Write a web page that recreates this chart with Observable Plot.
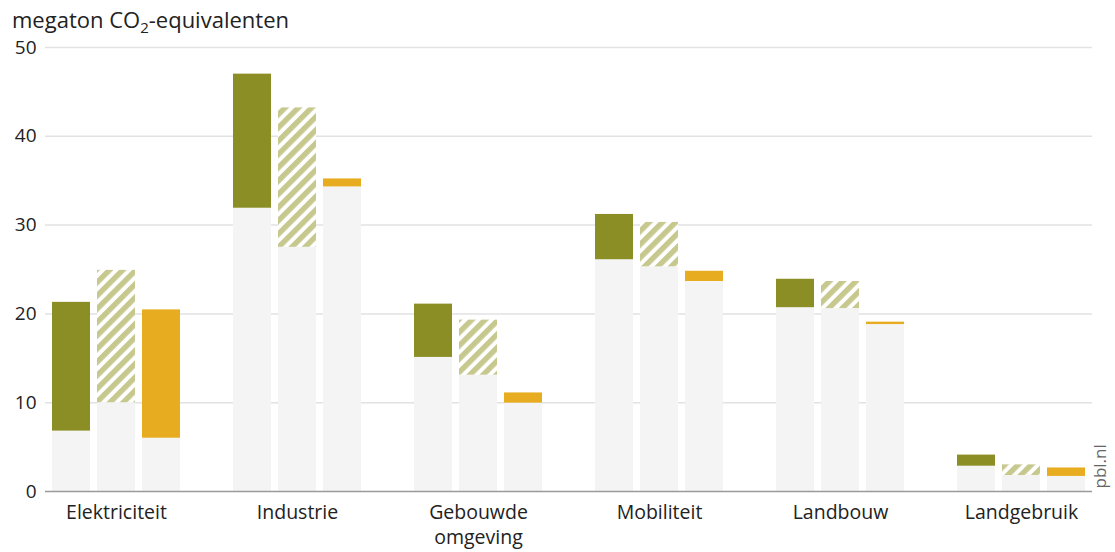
<!DOCTYPE html>
<html><head><meta charset="utf-8">
<script src="https://cdn.jsdelivr.net/npm/d3@7"></script>
<script src="https://cdn.jsdelivr.net/npm/@observablehq/plot@0.6"></script>
<style>
body{margin:0;background:#fff;font-family:"Open Sans",sans-serif;}
#title{height:30px;font-size:22px;color:#222;padding-left:12px;line-height:38px;white-space:nowrap;overflow:visible;position:relative;z-index:1;}
#title sub{font-size:15px;vertical-align:-5px;line-height:0;}
#chart svg{display:block;}
</style></head><body>
<div id="title">megaton CO<sub>2</sub>-equivalenten</div>
<div id="chart"></div>
<script>
const categories = ["Elektriciteit", "Industrie", "Gebouwde omgeving", "Mobiliteit", "Landbouw", "Landgebruik"];
const seriesNames = ["Raming 1", "Raming 2", "Raming 3"];
const low1  = [6.8, 31.9, 15.1, 26.1, 20.7, 2.85];
const high1 = [21.3, 47.0, 21.1, 31.2, 23.9, 4.1];
const low2  = [10.0, 27.5, 13.1, 25.3, 20.6, 1.8];
const high2 = [24.9, 43.2, 19.3, 30.3, 23.65, 3.0];
const low3  = [6.0, 34.3, 9.95, 23.65, 18.8, 1.7];
const high3 = [20.45, 35.2, 11.1, 24.8, 19.07, 2.65];
const yTicks = [0, 10, 20, 30, 40, 50];

const lows = [low1, low2, low3];
const highs = [high1, high2, high3];
const rows = [];
seriesNames.forEach((s, i) => categories.forEach((c, j) => rows.push({category: c, series: s, low: lows[i][j], high: highs[i][j]})));

const fills = ["#8b8e24", "url(#hatch)", "#e7ac1f"];
const insets = [[0, 90], [45, 45], [90, 0]];

const marks = [Plot.ruleY(yTicks.filter(d => d > 0), {stroke: "#e2e2e2", strokeWidth: 1.5})];
seriesNames.forEach((s, i) => {
  const data = rows.filter(d => d.series === s);
  marks.push(Plot.barY(data, {x: "category", y1: 0, y2: "low", fill: "#f4f4f4", insetLeft: insets[i][0], insetRight: insets[i][1]}));
  marks.push(Plot.barY(data, {x: "category", y1: "low", y2: "high", fill: fills[i], insetLeft: insets[i][0], insetRight: insets[i][1]}));
});
marks.push(Plot.ruleY([0], {stroke: "#9a9a9a", strokeWidth: 1.5}));
marks.push(Plot.text(categories, {x: d => d, frameAnchor: "bottom", text: d => d.replace(" ", "\n"),
  lineAnchor: "top", lineHeight: 1.3, dy: 9, fontSize: 19.5, fill: "#222"}));
marks.push(Plot.text(["pbl.nl"], {frameAnchor: "bottom-right", text: d => d, rotate: -90, textAnchor: "start", dx: 13, dy: -3, fontSize: 17, fill: "#666"}));

const plot = Plot.plot({
  width: 1115,
  height: 522,
  marginTop: 17,
  marginBottom: 61,
  marginLeft: 45,
  marginRight: 23,
  style: {fontFamily: "'Open Sans', sans-serif", fontSize: "19px", color: "#222", background: "transparent", overflow: "visible"},
  x: {domain: categories, paddingInner: 0.291, paddingOuter: 0.022, axis: null},
  y: {domain: [0, 50], ticks: yTicks, tickSize: 0, tickPadding: 9, label: null},
  marks
});

const svg = d3.select(plot);
const defs = svg.insert("defs", ":first-child");
const pat = defs.append("pattern").attr("id", "hatch").attr("patternUnits", "userSpaceOnUse")
  .attr("width", 9.4).attr("height", 9.4).attr("patternTransform", "rotate(45)");
pat.append("rect").attr("width", 9.4).attr("height", 9.4).attr("fill", "#fff");
pat.append("rect").attr("width", 5.4).attr("height", 9.4).attr("fill", "#c6c88e");

document.getElementById("chart").appendChild(plot);
</script>
</body></html>
